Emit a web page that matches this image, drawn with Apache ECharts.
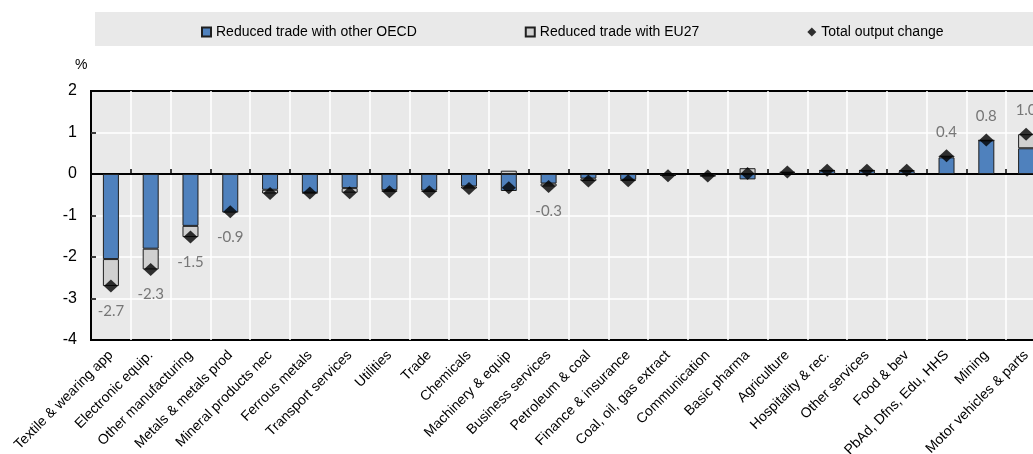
<!DOCTYPE html>
<html>
<head>
<meta charset="utf-8">
<script src="https://cdn.jsdelivr.net/npm/echarts@6/dist/echarts.min.js"></script>
<style>
  html, body { margin: 0; padding: 0; background: #fff; }
  #chart { width: 1033px; height: 454px; }
</style>
</head>
<body>
<div id="chart"></div>
<script>
var categories = [
  "Textile & wearing app", "Electronic equip.", "Other manufacturing", "Metals & metals prod",
  "Mineral products nec", "Ferrous metals", "Transport services", "Utilities", "Trade",
  "Chemicals", "Machinery & equip", "Business services", "Petroleum & coal",
  "Finance & insurance", "Coal, oil, gas extract", "Communication", "Basic pharma",
  "Agriculture", "Hospitality & rec.", "Other services", "Food & bev",
  "PbAd, Dfns, Edu, HHS", "Mining", "Motor vehicles & parts"
];
var otherOecd = [-2.05, -1.80, -1.25, -0.93, -0.38, -0.45, -0.34, -0.39, -0.40, -0.30, -0.41, -0.23,
  -0.11, -0.14, -0.03, -0.04, -0.13, 0.03, 0.08, 0.08, 0.07, 0.40, 0.81, 0.62];
var eu27 = [-0.65, -0.50, -0.27, 0.02, -0.09, -0.01, -0.11, -0.04, -0.03, -0.05, 0.08, -0.07,
  -0.06, -0.02, -0.01, -0.01, 0.14, 0.02, 0.01, 0.01, 0.02, 0.04, 0.00, 0.34];
var totalChange = [-2.70, -2.30, -1.52, -0.91, -0.47, -0.46, -0.45, -0.43, -0.43, -0.35, -0.33, -0.30,
  -0.17, -0.16, -0.04, -0.05, 0.01, 0.05, 0.09, 0.09, 0.09, 0.44, 0.82, 0.96];
// which points carry a value label
var labelled = [0, 1, 2, 3, 11, 21, 22, 23];
var yTicks = [-4, -3, -2, -1, 0, 1, 2];

var totalData = totalChange.map(function (v, i) {
  if (labelled.indexOf(i) < 0) return v;
  return {
    value: v,
    label: {
      show: true,
      position: v < 0 ? "bottom" : "top",
      distance: v < 0 ? 11 : 10
    }
  };
});

var myChart = echarts.init(document.getElementById("chart"));
myChart.setOption({
  animation: false,
  textStyle: { fontFamily: "Liberation Sans, Arial, sans-serif" },
  title: {
    text: "%",
    left: 70,
    top: 53,
    textStyle: { fontSize: 14, fontWeight: "normal", color: "#000" }
  },
  graphic: [{
    type: "rect",
    z: -10,
    shape: { x: 95, y: 12, width: 938, height: 34 },
    style: { fill: "#e9e9e9" }
  }],
  legend: {
    top: 20,
    left: 196,
    itemGap: 108,
    itemWidth: 9,
    itemHeight: 9,
    textStyle: { fontSize: 14, color: "#000" },
    data: [
      { name: "Reduced trade with other OECD", icon: "rect" },
      { name: "Reduced trade with EU27", icon: "rect" },
      { name: "Total output change", icon: "diamond" }
    ]
  },
  grid: {
    left: 91,
    top: 91,
    bottom: 114,
    right: -13,
    outerBoundsMode: "none",
    containLabel: false,
    show: true,
    backgroundColor: "#e9e9e9",
    borderColor: "#000",
    borderWidth: 2
  },
  xAxis: [
    {
      type: "category",
      data: categories,
      position: "bottom",
      axisLine: { show: false, onZero: false },
      axisTick: { show: false },
      splitLine: {
        show: true, interval: 0, showMinLine: false, showMaxLine: false,
        lineStyle: { color: "#fff", width: 1.5 }
      },
      axisLabel: {
        interval: 0,
        rotate: 45,
        margin: 13,
        fontSize: 14,
        color: "#000"
      }
    },
    {
      type: "category",
      data: categories,
      position: "bottom",
      axisLine: { show: true, onZero: true, lineStyle: { color: "#000", width: 2 } },
      axisTick: { show: true, inside: true, length: 5, interval: 0, lineStyle: { color: "#000", width: 1.5 } },
      axisLabel: { show: false },
      splitLine: { show: false }
    }
  ],
  yAxis: {
    type: "value",
    min: yTicks[0],
    max: yTicks[yTicks.length - 1],
    interval: 1,
    axisLine: { show: false },
    axisTick: { show: true, inside: true, length: 5, lineStyle: { color: "#000", width: 1.5 } },
    axisLabel: { fontSize: 16, color: "#000", margin: 14 },
    splitLine: {
      show: true, showMinLine: false, showMaxLine: false,
      lineStyle: { color: "#fff", width: 1.5 }
    }
  },
  series: [
    {
      name: "Reduced trade with other OECD",
      type: "bar",
      stack: "trade",
      barWidth: 16,
      data: otherOecd,
      itemStyle: { color: "#4f81bd", borderColor: "#1f1f1f", borderWidth: 1 }
    },
    {
      name: "Reduced trade with EU27",
      type: "bar",
      stack: "trade",
      barWidth: 16,
      data: eu27,
      itemStyle: { color: "#d0d0d0", borderColor: "#1f1f1f", borderWidth: 1 }
    },
    {
      name: "Total output change",
      type: "scatter",
      symbol: "diamond",
      symbolSize: [14, 13],
      z: 5,
      itemStyle: { color: "#000" },
      label: {
        show: false,
        fontFamily: "Lato, sans-serif",
        fontSize: 15,
        color: "#595959",
        formatter: function (p) { return p.value.toFixed(1); }
      },
      data: totalData
    }
  ]
});
window.onresize = myChart.resize;
</script>
</body>
</html>
